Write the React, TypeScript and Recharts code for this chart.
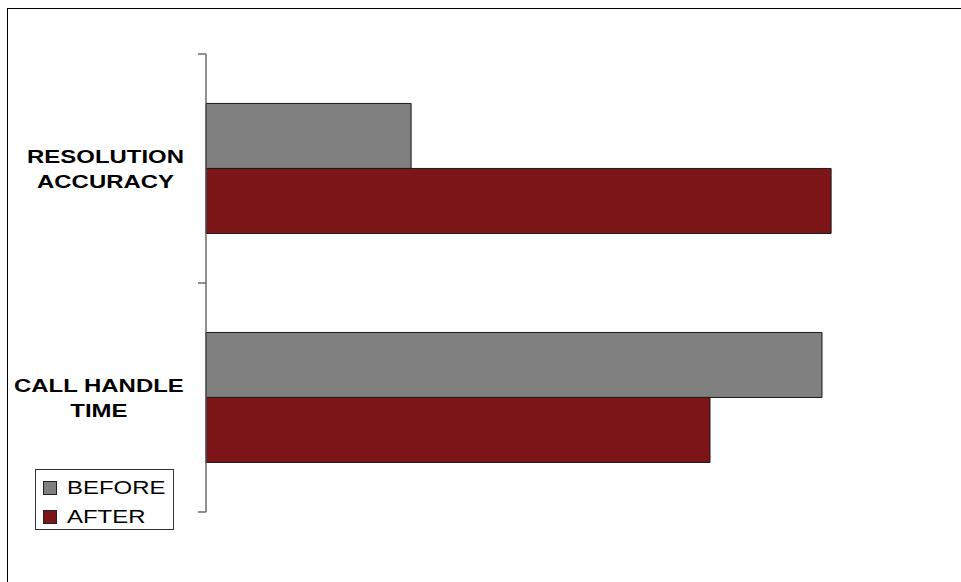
import React from 'react';
import { BarChart, Bar, XAxis, YAxis, Legend } from 'recharts';

// ---- data ----
const categories = ['RESOLUTION\nACCURACY', 'CALL HANDLE\nTIME'];
const beforeValues = [29.3, 88.0];
const afterValues = [89.3, 72.0];
const seriesNames = ['BEFORE', 'AFTER'];
const seriesColors = ['#808080', '#7C1518'];

const data = categories.map((c, i) => ({ category: c, before: beforeValues[i], after: afterValues[i] }));

// ---- layout ----
const W = 961;
const H = 582;
const MARGIN = { top: 54, right: 55, bottom: 70, left: 0 };
const Y_AXIS_W = 206;
const STRETCH = 1.26;
const LABEL_FONT = 19;
const FONT_FAMILY = '"Liberation Sans", Arial, sans-serif';

let measureCtx: CanvasRenderingContext2D | null = null;
function measure(text: string, font: string): number {
  if (!measureCtx && typeof document !== 'undefined') {
    measureCtx = document.createElement('canvas').getContext('2d');
  }
  if (!measureCtx) return text.length * 12;
  measureCtx.font = font;
  return measureCtx.measureText(text).width;
}

const CategoryTick = (props: any) => {
  const { x, y, payload, index, visibleTicksCount } = props;
  const half =
    typeof payload.offset === 'number' && payload.offset > 0
      ? payload.offset
      : (H - MARGIN.top - MARGIN.bottom) / categories.length / 2;
  const lines = String(payload.value).split('\n');
  const font = `bold ${LABEL_FONT}px ${FONT_FAMILY}`;
  const widths = lines.map((l) => measure(l, font) * STRETCH);
  const maxW = Math.max(...widths);
  const right = x - 22;
  const cx = right - maxW / 2;
  const lineH = 25;
  const capH = 0.716 * LABEL_FONT;
  const b0 = y + (capH - (lines.length - 1) * lineH) / 2;
  const last = index === visibleTicksCount - 1;
  return (
    <g>
      <line x1={x - 8} x2={x} y1={y - half} y2={y - half} stroke="#555" strokeWidth={1.3} />
      {last && <line x1={x - 8} x2={x} y1={y + half} y2={y + half} stroke="#555" strokeWidth={1.3} />}
      {lines.map((l, i) => (
        <text
          key={i}
          x={0}
          y={b0 + i * lineH}
          transform={`translate(${cx} 0) scale(${STRETCH} 1)`}
          textAnchor="middle"
          fontFamily={FONT_FAMILY}
          fontWeight="bold"
          fontSize={LABEL_FONT}
          fill="#000"
        >
          {l}
        </text>
      ))}
    </g>
  );
};

const LegendBox = (props: any) => {
  const payload = [...(props.payload || [])].sort(
    (a: any, b: any) => seriesNames.indexOf(a.value) - seriesNames.indexOf(b.value)
  );
  return (
    <svg width={140} height={62} style={{ display: 'block' }}>
      <rect x={0.5} y={0.5} width={138} height={60} fill="#fff" stroke="#333" strokeWidth={1} />
      {payload.map((p: any, i: number) => (
        <g key={i}>
          <rect x={8.5} y={12.5 + i * 29} width={13} height={13} fill={p.color} stroke="#222" strokeWidth={1} />
          <text
            x={0}
            y={25 + i * 29}
            transform={`translate(32 0) scale(${STRETCH} 1)`}
            fontFamily={FONT_FAMILY}
            fontSize={19}
            fill="#000"
          >
            {p.value}
          </text>
        </g>
      ))}
    </svg>
  );
};

export default function App() {
  return (
    <>
      <div
        style={{
          position: 'absolute',
          left: 7,
          top: 8,
          width: 954,
          height: 574,
          boxSizing: 'border-box',
          borderLeft: '1px solid #000',
          borderTop: '1px solid #000',
        }}
      />
      <div style={{ position: 'absolute', left: 0, top: 0, width: W, height: H }}>
        <BarChart
          width={W}
          height={H}
          data={data}
          layout="vertical"
          margin={MARGIN}
          barCategoryGap="21.6%"
          barGap={0}
        >
          <XAxis type="number" domain={[0, 100]} hide />
          <YAxis
            type="category"
            dataKey="category"
            width={Y_AXIS_W}
            tickSize={0}
            tickMargin={0}
            tickLine={false}
            interval={0}
            axisLine={{ stroke: '#555', strokeWidth: 1.3 }}
            tick={<CategoryTick />}
          />
          <Legend
            layout="horizontal"
            verticalAlign="middle"
            align="center"
            content={<LegendBox />}
            wrapperStyle={{ left: 35, top: 469, width: 140, height: 62 }}
          />
          <Bar
            dataKey="before"
            name={seriesNames[0]}
            fill={seriesColors[0]}
            stroke="#1a1a1a"
            strokeWidth={1}
            isAnimationActive={false}
          />
          <Bar
            dataKey="after"
            name={seriesNames[1]}
            fill={seriesColors[1]}
            stroke="#1a1a1a"
            strokeWidth={1}
            isAnimationActive={false}
          />
        </BarChart>
      </div>
    </>
  );
}
